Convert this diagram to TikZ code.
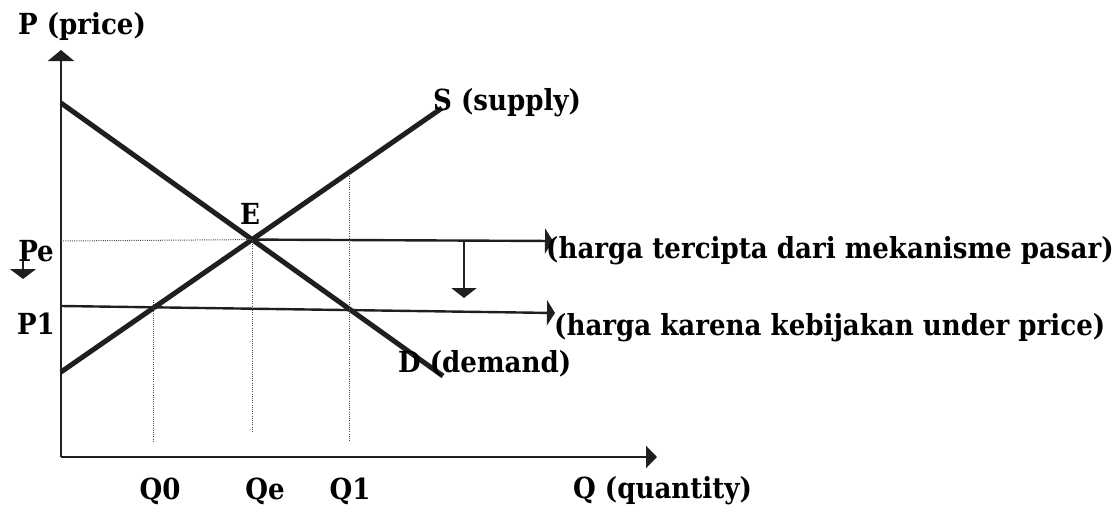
\documentclass[tikz,border=0pt]{standalone}
\usepackage{fontspec}
\setmainfont{DejaVu Serif Condensed}
\usetikzlibrary{arrows.meta,calc}
\begin{document}
\begin{tikzpicture}[x=1pt,y=-1pt,
  ink/.style={draw=black!88},
  axisline/.style={ink,line width=2.4pt},
  curve/.style={ink,line width=5pt},
  hline/.style={ink,line width=2.4pt},
  guide/.style={draw=black!70,line width=1pt,dash pattern=on 1pt off 1.2pt},
  lab/.style={font=\fontsize{29}{32}\selectfont\bfseries,text=black,inner sep=0pt},
  htip/.style={-{Triangle[length=8pt,width=25pt]}},
  vtip/.style={-{Triangle[length=10pt,width=25pt]}}
]
\useasboundingbox (0,0) rectangle (1120,530);
% axes
\coordinate (O) at (61,457);
\coordinate (Ytop) at (61,50);
\coordinate (Xend) at (657,457);
\draw[axisline,-{Triangle[length=11pt,width=26pt]}] (O) -- (Ytop);
\draw[axisline,-{Triangle[length=11pt,width=22pt]}] (O) -- (Xend);
% curves
\coordinate (D0) at (61,103);
\coordinate (D1) at (443,376);
\coordinate (S0) at (61,372);
\coordinate (S1) at (442,108);
\coordinate (E) at (intersection of D0--D1 and S0--S1);
\draw[curve] (D0) -- (D1);
\draw[curve] (S0) -- (S1);
% price lines
\coordinate (PeL) at (61,241);
\coordinate (PeR) at (553,241);
\coordinate (P1L) at (61,306);
\coordinate (P1R) at (555,313);
\draw[guide] (PeL) -- (E);
\draw[hline,htip] (E) -- (PeR);
\draw[hline,htip] (P1L) -- (P1R);
% quantity guides
\coordinate (Q0t) at (153,300);
\coordinate (Q0b) at (153,442);
\coordinate (Qeb) at (253,433);
\coordinate (Q1t) at (349,174);
\coordinate (Q1b) at (349,441);
\draw[guide] (Q0t) -- (Q0b);
\draw[guide] (E) -- (E|-Qeb);
\draw[guide] (Q1t) -- (Q1b);
% down arrows
\coordinate (MA) at (464,241);
\coordinate (MB) at (464,298);
\draw[hline,vtip] (MA) -- (MB);
\coordinate (LA) at (23,260);
\coordinate (LB) at (23,279);
\draw[ink,line width=1.6pt,-{Triangle[length=10pt,width=26pt]}] (LA) -- (LB);
% labels
\node[lab] (lP) at (82,26) {P (price)};
\node[lab,anchor=west] (lS) at (433,103) {S (supply)};
\node[lab] (lE) at (250,214) {E};
\node[lab] (lPe) at (36,251) {Pe};
\node[lab] (lP1) at (36,324) {P1};
\node[lab,anchor=west] (lPasar) at (546,251) {(harga tercipta dari mekanisme pasar)};
\node[lab,anchor=west] (lUnder) at (554,328) {(harga karena kebijakan under price)};
\node[lab,anchor=west] (lD) at (398,364) {D (demand)};
\node[lab] (lQ0) at (160,491) {Q0};
\node[lab] (lQe) at (265,491) {Qe};
\node[lab] (lQ1) at (350,491) {Q1};
\node[lab,anchor=west] (lQ) at (573,491) {Q (quantity)};
\end{tikzpicture}
\end{document}
